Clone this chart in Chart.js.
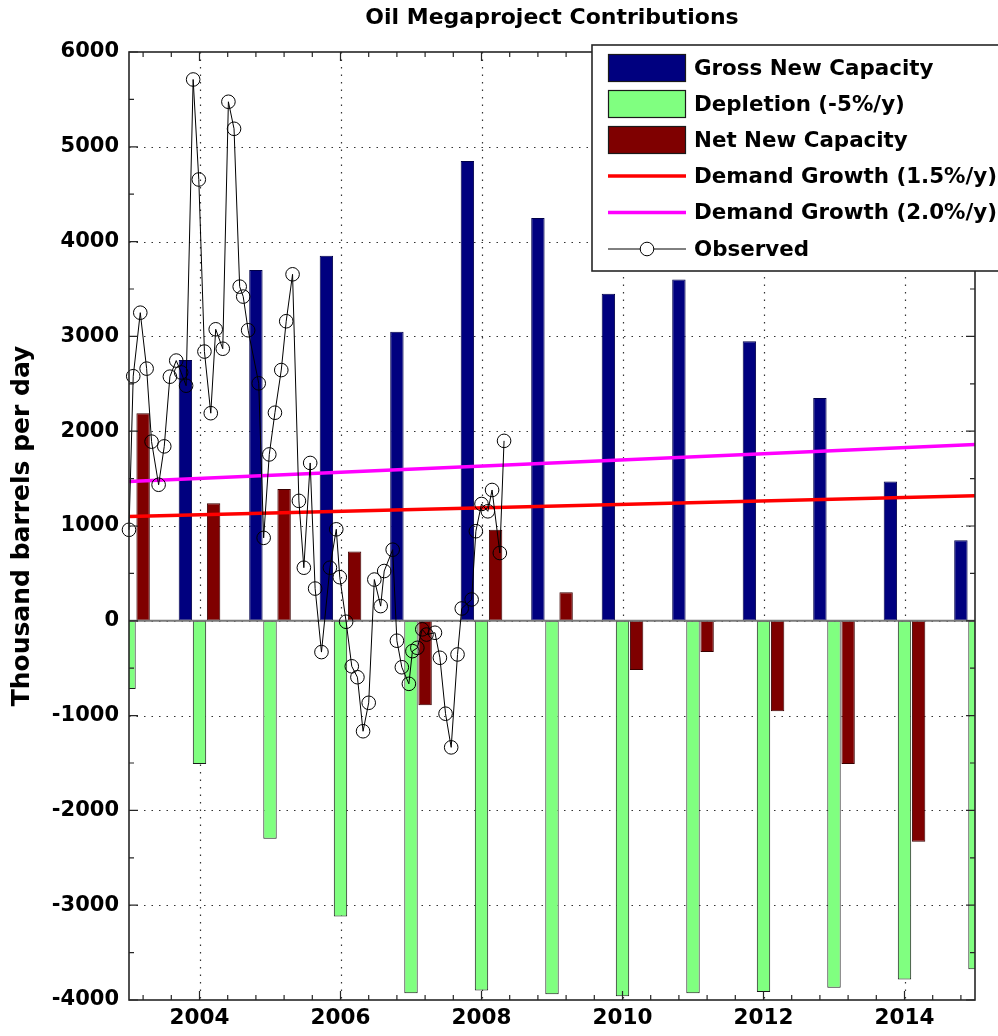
<!DOCTYPE html>
<html>
<head>
<meta charset="utf-8">
<script src="https://cdn.jsdelivr.net/npm/chart.js@4.4.1/dist/chart.umd.min.js"></script>
<style>
html,body{margin:0;padding:0;background:#fff;}
#wrap{width:998px;height:1036px;position:relative;}
</style>
</head>
<body>
<div id="wrap"><canvas id="c" width="998" height="1036"></canvas></div>
<script>
// ---- data ----
const barYears     = [2003, 2004, 2005, 2006, 2007, 2008, 2009, 2010, 2011, 2012, 2013, 2014, 2015];
const grossNew     = [null, 2750, 3700, 3850, 3050, 4850, 4250, 3450, 3600, 2950, 2350, 1470, 850];
const depletion    = [-720, -1510, -2300, -3120, -3930, -3900, -3940, -3960, -3930, -3915, -3870, -3785, -3675];
const netNew       = [2190, 1240, 1390, 730, -890, 960, 300, -520, -330, -955, -1510, -2330, null];

const demandYears  = [2003, 2015];
const demand15     = [1100, 1320];
const demand20     = [1470, 1860];

const obsYears = [2003.00, 2003.06, 2003.16, 2003.25, 2003.32, 2003.42, 2003.50, 2003.58, 2003.67, 2003.74,
  2003.81, 2003.91, 2003.99, 2004.07, 2004.16, 2004.23, 2004.33, 2004.41, 2004.49, 2004.57,
  2004.62, 2004.69, 2004.84, 2004.91, 2004.99, 2005.07, 2005.16, 2005.23, 2005.32, 2005.41,
  2005.48, 2005.57, 2005.64, 2005.73, 2005.85, 2005.94, 2005.99, 2006.08, 2006.16, 2006.24,
  2006.32, 2006.40, 2006.48, 2006.57, 2006.62, 2006.74, 2006.80, 2006.87, 2006.97, 2007.02,
  2007.09, 2007.16, 2007.22, 2007.34, 2007.41, 2007.49, 2007.57, 2007.66, 2007.72, 2007.86,
  2007.92, 2008.00, 2008.09, 2008.15, 2008.26, 2008.32];
const obsValues = [960, 2580, 3250, 2660, 1890, 1435, 1840, 2575, 2745, 2620,
  2480, 5710, 4655, 2840, 2190, 3075, 2870, 5475, 5190, 3525,
  3420, 3065, 2505, 875, 1755, 2195, 2645, 3160, 3655, 1265,
  560, 1665, 340, -330, 560, 965, 460, -10, -480, -595,
  -1165, -865, 435, 155, 525, 750, -210, -490, -665, -320,
  -285, -90, -145, -126, -390, -980, -1335, -355, 130, 225,
  945, 1232, 1155, 1380, 715, 1898];

const xTickYears = [2004, 2006, 2008, 2010, 2012, 2014];
const yTicks = [-4000, -3000, -2000, -1000, 0, 1000, 2000, 3000, 4000, 5000, 6000];
const labels = ['Gross New Capacity', 'Depletion (-5%/y)', 'Net New Capacity',
  'Demand Growth (1.5%/y)', 'Demand Growth (2.0%/y)', 'Observed'];

const FONT = "'DejaVu Sans', sans-serif";

function pts(xs, ys) {
  const out = [];
  for (let i = 0; i < xs.length; i++) if (ys[i] !== null) out.push({x: xs[i], y: ys[i]});
  return out;
}

// ---- MATLAB-like axes decoration ----
const axesPlugin = {
  id: 'matlabAxes',
  beforeDatasetsDraw(chart) {
    const {ctx, chartArea: a, scales: {x, y}} = chart;
    ctx.save();
    ctx.strokeStyle = '#333';
    ctx.lineWidth = 1.2;
    ctx.setLineDash([1.5, 6]);
    for (const v of xTickYears) {
      const px = Math.round(x.getPixelForValue(v)) + 0.5;
      ctx.beginPath(); ctx.moveTo(px, a.top); ctx.lineTo(px, a.bottom); ctx.stroke();
    }
    for (const v of yTicks) {
      if (v === yTicks[0] || v === yTicks[yTicks.length - 1]) continue;
      const py = Math.round(y.getPixelForValue(v)) + 0.5;
      ctx.beginPath(); ctx.moveTo(a.left, py); ctx.lineTo(a.right, py); ctx.stroke();
    }
    ctx.restore();
  },
  beforeDatasetDraw(chart, args) {
    if (args.index !== 4) return;
    const {ctx, chartArea: a, scales: {y}} = chart;
    const py = y.getPixelForValue(0);
    ctx.save();
    ctx.strokeStyle = '#7a7a7a';
    ctx.lineWidth = 2;
    ctx.beginPath(); ctx.moveTo(a.left, py); ctx.lineTo(a.right, py); ctx.stroke();
    ctx.restore();
  },
  afterDatasetsDraw(chart) {
    const {ctx, chartArea: a, scales: {x, y}} = chart;
    ctx.save();
    ctx.strokeStyle = '#262626';
    ctx.lineWidth = 1.6;
    ctx.strokeRect(a.left, a.top, a.right - a.left, a.bottom - a.top);
    ctx.lineWidth = 1.2;
    for (let k = 0; ; k++) {
      const v = 2003.2 + k * 0.4;
      if (v > 2015.001) break;
      const major = xTickYears.some(t => Math.abs(t - v) < 1e-6);
      const len = major ? 9 : 5;
      const px = x.getPixelForValue(v);
      ctx.beginPath();
      ctx.moveTo(px, a.bottom); ctx.lineTo(px, a.bottom - len);
      ctx.moveTo(px, a.top); ctx.lineTo(px, a.top + len);
      ctx.stroke();
    }
    for (let v = -4000; v <= 6000; v += 500) {
      const major = v % 1000 === 0;
      const len = major ? 9 : 5;
      const py = y.getPixelForValue(v);
      ctx.beginPath();
      ctx.moveTo(a.left, py); ctx.lineTo(a.left + len, py);
      ctx.moveTo(a.right, py); ctx.lineTo(a.right - len, py);
      ctx.stroke();
    }
    ctx.restore();
  },
  afterDraw(chart) {
    const ctx = chart.ctx;
    const bx = 592, by = 45, bw = 420, bh = 226;
    ctx.save();
    ctx.fillStyle = '#fff';
    ctx.fillRect(bx, by, bw, bh);
    ctx.strokeStyle = '#262626';
    ctx.lineWidth = 1.6;
    ctx.strokeRect(bx, by, bw, bh);
    const sx0 = 608, sx1 = 686, tx = 694;
    const rows = [68, 104, 140, 176, 212.5, 249];
    chart.data.datasets.forEach((ds, i) => {
      const cy = rows[i];
      if (ds.type === 'bar' || !ds.type) {
        ctx.fillStyle = ds.backgroundColor;
        ctx.fillRect(sx0, cy - 13.5, sx1 - sx0, 27);
        ctx.strokeStyle = '#1a1a1a';
        ctx.lineWidth = 1.2;
        ctx.strokeRect(sx0 + 0.5, cy - 13.5, sx1 - sx0 - 1, 27);
      } else {
        ctx.strokeStyle = ds.borderColor;
        ctx.lineWidth = ds.borderWidth;
        ctx.beginPath(); ctx.moveTo(sx0, cy); ctx.lineTo(sx1, cy); ctx.stroke();
        if (ds.pointRadius) {
          ctx.fillStyle = '#fff';
          ctx.beginPath(); ctx.arc((sx0 + sx1) / 2, cy, ds.pointRadius, 0, Math.PI * 2);
          ctx.fill(); ctx.stroke();
        }
      }
      ctx.fillStyle = '#000';
      ctx.font = 'bold 21.4px ' + FONT;
      ctx.textBaseline = 'middle';
      ctx.textAlign = 'left';
      ctx.fillText(ds.label, tx, cy + 1);
    });
    ctx.restore();
  }
};

const barCommon = {
  type: 'bar',
  order: 3,
  borderColor: '#1a1a1a',
  borderWidth: 1,
  borderSkipped: false,
  categoryPercentage: 0.6,
  barPercentage: 0.95,
  clip: 0
};

new Chart(document.getElementById('c'), {
  type: 'bar',
  data: {
    datasets: [
      Object.assign({}, barCommon, {label: labels[0], data: pts(barYears, grossNew), backgroundColor: '#00007f', borderColor: '#00004a'}),
      Object.assign({}, barCommon, {label: labels[1], data: pts(barYears, depletion), backgroundColor: '#80ff80'}),
      Object.assign({}, barCommon, {label: labels[2], data: pts(barYears, netNew), backgroundColor: '#7f0000', borderColor: '#3a0000'}),
      {type: 'line', order: 2, label: labels[3], data: pts(demandYears, demand15), borderColor: '#ff0000', borderWidth: 3.5, pointRadius: 0, fill: false, clip: 0},
      {type: 'line', order: 2, label: labels[4], data: pts(demandYears, demand20), borderColor: '#ff00ff', borderWidth: 3.5, pointRadius: 0, fill: false, clip: 0},
      {type: 'line', order: 1, label: labels[5], data: pts(obsYears, obsValues), borderColor: '#000', borderWidth: 1,
        pointRadius: 6.8, pointBorderWidth: 1, pointBorderColor: '#000', pointBackgroundColor: 'rgba(0,0,0,0)',
        pointStyle: 'circle', fill: false, tension: 0, clip: false}
    ]
  },
  options: {
    responsive: false,
    animation: false,
    layout: {padding: {left: 0, right: 23, top: 0, bottom: 0}},
    plugins: {
      legend: {display: false},
      tooltip: {enabled: false},
      title: {
        display: true,
        text: 'Oil Megaproject Contributions',
        color: '#000',
        fullSize: false,
        font: {family: FONT, size: 22, weight: 'bold'},
        padding: {top: 5, bottom: 20.6}
      }
    },
    scales: {
      x: {
        type: 'linear',
        min: 2003,
        max: 2015,
        offset: false,
        grid: {display: false, drawTicks: false, offset: false},
        border: {display: false},
        afterBuildTicks: (s) => { s.ticks = xTickYears.map(v => ({value: v})); },
        afterFit: (s) => { s.height = 36; },
        ticks: {
          color: '#000',
          font: {family: FONT, size: 21.5, weight: 'bold'},
          padding: 6,
          maxRotation: 0,
          autoSkip: false,
          callback: (v) => String(v)
        }
      },
      y: {
        min: -4000,
        max: 6000,
        grid: {display: false, drawTicks: false},
        border: {display: false},
        afterBuildTicks: (s) => { s.ticks = yTicks.map(v => ({value: v})); },
        afterFit: (s) => { s.width = 129; },
        title: {
          display: true,
          text: 'Thousand barrels per day',
          color: '#000',
          font: {family: FONT, size: 25, weight: 'bold'},
          padding: {top: 7, bottom: 0}
        },
        ticks: {
          color: '#000',
          font: {family: FONT, size: 21, weight: 'bold'},
          padding: 10,
          callback: (v) => String(v)
        }
      }
    }
  },
  plugins: [axesPlugin]
});
</script>
</body>
</html>
